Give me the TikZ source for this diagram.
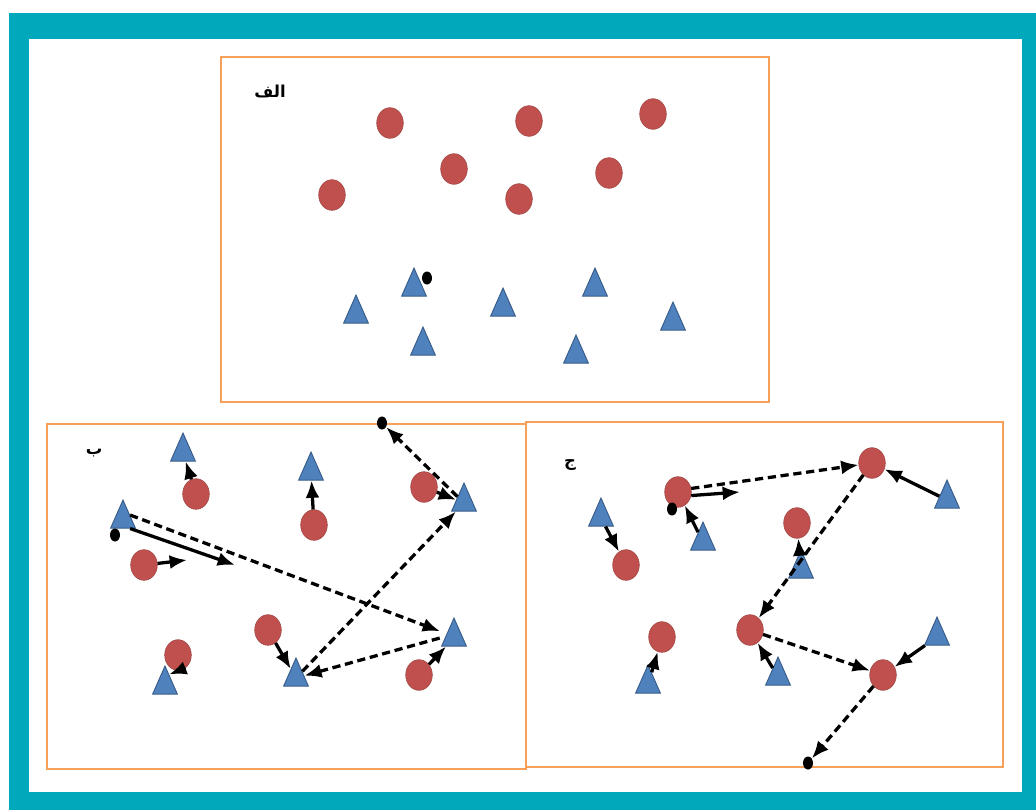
\documentclass[tikz,border=0pt]{standalone}
\usepackage{fontspec}
\newfontfamily\arabicfont[Script=Arabic]{DejaVu Sans}
\TeXXeTstate=1
\usepackage{tikz}
\usetikzlibrary{shapes.geometric,arrows.meta}
\definecolor{frameTeal}{RGB}{0,168,187}
\definecolor{panelOrange}{RGB}{247,160,90}
\definecolor{dotRed}{RGB}{192,80,77}
\definecolor{triBlue}{RGB}{79,129,189}
\definecolor{triEdge}{RGB}{56,93,138}
\tikzset{
  panel/.style={draw=panelOrange,line width=1.8pt,fill=white},
  reddot/.style={ellipse,fill=dotRed,draw=dotRed!80!black,line width=0.4pt,
    minimum width=0.8cm,minimum height=0.92cm,inner sep=0pt},
  bluetri/.style={isosceles triangle,isosceles triangle stretches,
    shape border rotate=90,fill=triBlue,draw=triEdge,line width=0.8pt,
    minimum width=0.74cm,minimum height=0.84cm,inner sep=0pt},
  blackdot/.style={ellipse,fill=black,minimum width=0.3cm,
    minimum height=0.39cm,inner sep=0pt},
  tag/.style={font=\arabicfont\bfseries\fontsize{14}{16}\selectfont},
  solidarrow/.style={-{Latex[length=5.2mm,width=4.2mm]},line width=2.8pt},
  dasharrow/.style={solidarrow,dash pattern=on 7pt off 4pt}
}
\begin{document}
\begin{tikzpicture}[x=0.03cm,y=-0.03cm]
  \useasboundingbox (0,0) rectangle (1036,810);
  \fill[frameTeal] (9,13) rectangle (1036,810);
  \fill[white] (29,39) rectangle (1022,792);
  \draw[panel] (221,57) rectangle (769,402);
  \draw[panel] (47,424) rectangle (526,769);
  \draw[panel] (526,422) rectangle (1003,767);

  % panel A
  \node[tag] (lA) at (270,92) {\beginR الف\endR};
  \node[reddot] (cA1) at (390,123) {};
  \node[reddot] (cA2) at (529,121) {};
  \node[reddot] (cA3) at (653,114) {};
  \node[reddot] (cA4) at (454,169) {};
  \node[reddot] (cA5) at (609,173) {};
  \node[reddot] (cA6) at (332,195) {};
  \node[reddot] (cA7) at (519,199) {};
  \node[bluetri] (tA1) at (414,288) {};
  \node[bluetri] (tA2) at (595,288) {};
  \node[bluetri] (tA3) at (503,308) {};
  \node[bluetri] (tA4) at (356,315) {};
  \node[bluetri] (tA5) at (673,322) {};
  \node[bluetri] (tA6) at (423,347) {};
  \node[bluetri] (tA7) at (576,355) {};
  \node[blackdot] (dA) at (427,278) {};

  % panel B
  \node[tag] (lB) at (94,453) {\beginR ب\endR};
  \node[reddot] (cB1) at (196,494) {};
  \node[reddot] (cB2) at (314,525) {};
  \node[reddot] (cB3) at (424,487) {};
  \node[reddot] (cB4) at (144,565) {};
  \node[reddot] (cB5) at (268,630) {};
  \node[reddot] (cB6) at (178,655) {};
  \node[reddot] (cB7) at (419,675) {};
  \node[bluetri] (tB1) at (183,453) {};
  \node[bluetri] (tB2) at (311,472) {};
  \node[bluetri] (tB3) at (464,503) {};
  \node[bluetri] (tB4) at (123,520) {};
  \node[bluetri] (tB5) at (454,638) {};
  \node[bluetri] (tB6) at (296,678) {};
  \node[bluetri] (tB7) at (165,686) {};
  \node[blackdot] (dB1) at (382,423) {};
  \node[blackdot] (dB2) at (115,535) {};
  \coordinate (bGo1) at (187,560);
  \coordinate (bGo2) at (235,565);
  \draw[solidarrow] (cB1) -- (tB1);
  \draw[solidarrow] (cB2) -- (tB2);
  \draw[solidarrow] (cB3) -- (tB3);
  \draw[solidarrow] (cB4) -- (bGo1);
  \draw[solidarrow] (tB4.-50) -- (bGo2);
  \draw[solidarrow] (cB5) -- (tB6);
  \draw[solidarrow] (cB6.-60) -- (tB7.70);
  \draw[solidarrow] (cB7) -- (tB5);
  \draw[dasharrow,shorten >=6pt] (tB4.35) -- (tB5.150);
  \draw[dasharrow,shorten <=5pt] (tB5.170) -- (tB6);
  \draw[dasharrow] (tB6) -- (tB3);
  \draw[dasharrow] (tB3) -- (dB1);

  % panel C
  \node[tag] (lC) at (570,465) {\beginR ج\endR};
  \node[reddot] (cC1) at (872,463) {};
  \node[reddot] (cC2) at (678,492) {};
  \node[reddot] (cC3) at (797,523) {};
  \node[reddot] (cC4) at (626,565) {};
  \node[reddot] (cC5) at (662,637) {};
  \node[reddot] (cC6) at (750,630) {};
  \node[reddot] (cC7) at (883,675) {};
  \node[bluetri] (tC1) at (947,500) {};
  \node[bluetri] (tC2) at (601,518) {};
  \node[bluetri] (tC3) at (703,542) {};
  \node[bluetri] (tC4) at (801,570) {};
  \node[bluetri] (tC5) at (937,637) {};
  \node[bluetri] (tC6) at (648,685) {};
  \node[bluetri] (tC7) at (778,677) {};
  \node[blackdot] (dC1) at (672,509) {};
  \node[blackdot] (dC2) at (808,763) {};
  \coordinate (cGo) at (740,492);
  \draw[solidarrow] (tC1) -- (cC1);
  \draw[solidarrow] (tC2) -- (cC4);
  \draw[solidarrow] (tC3) -- (cC2);
  \draw[solidarrow] (cC2.-15) -- (cGo);
  \draw[solidarrow] (tC4) -- (cC3);
  \draw[solidarrow] (tC6) -- (cC5);
  \draw[solidarrow] (tC7) -- (cC6);
  \draw[solidarrow] (tC5) -- (cC7);
  \draw[dasharrow] (cC2.15) -- (cC1);
  \draw[dasharrow] (cC1) -- (cC6);
  \draw[dasharrow] (cC6) -- (cC7);
  \draw[dasharrow] (cC7) -- (dC2);
\end{tikzpicture}
\end{document}
